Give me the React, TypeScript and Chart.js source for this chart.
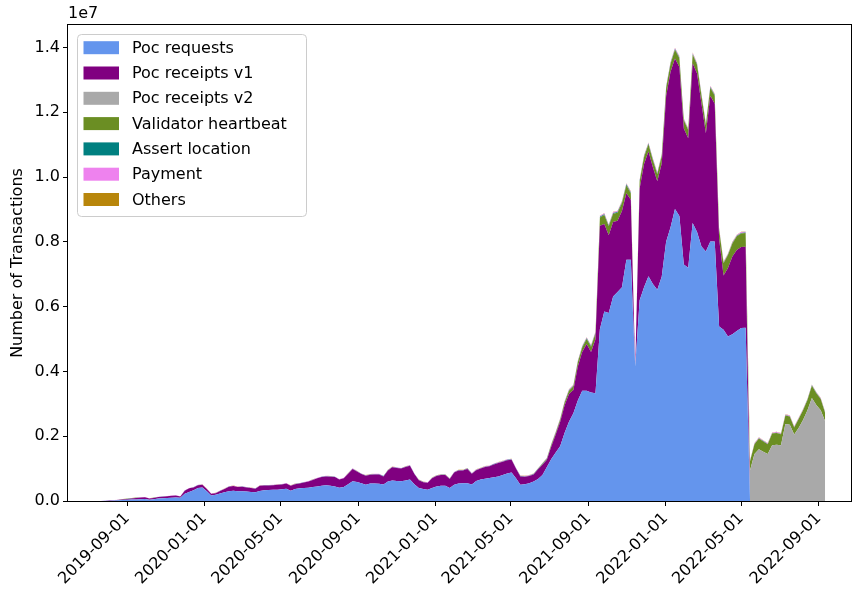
import React, { useEffect, useRef } from 'react';
import { Chart, registerables } from 'chart.js';

Chart.register(...registerables);

// Weekly data (millions of transactions), one value per week starting FIRST_WEEK
const FIRST_WEEK = '2019-07-21';
const WEEK_MS = 7 * 24 * 3600 * 1000;

const pocRequests = [
  0, 0.005, 0.01, 0.015, 0.02, 0.03, 0.04, 0.045, 0.05, 0.055,
  0.06, 0.04, 0.055, 0.075, 0.085, 0.09, 0.10, 0.11, 0.10, 0.22,
  0.28, 0.33, 0.40, 0.42, 0.30, 0.17, 0.19, 0.23, 0.27, 0.30,
  0.32, 0.30, 0.30, 0.29, 0.28, 0.27, 0.31, 0.33, 0.34, 0.35,
  0.35, 0.36, 0.38, 0.32, 0.37, 0.39, 0.40, 0.41, 0.43, 0.45,
  0.47, 0.49, 0.47, 0.45, 0.41, 0.43, 0.52, 0.61, 0.59, 0.55,
  0.50, 0.54, 0.54, 0.53, 0.51, 0.60, 0.63, 0.62, 0.61, 0.63,
  0.66, 0.52, 0.40, 0.37, 0.35, 0.40, 0.45, 0.47, 0.47, 0.40,
  0.50, 0.54, 0.55, 0.55, 0.51, 0.62, 0.66, 0.69, 0.71, 0.73,
  0.76, 0.80, 0.85, 0.88, 0.70, 0.50, 0.52, 0.55, 0.60, 0.68,
  0.80, 1.05, 1.30, 1.50, 1.69, 2.10, 2.45, 2.71, 3.10, 3.40,
  3.40, 3.35, 3.33, 5.30, 5.85, 5.80, 6.31, 6.45, 6.60, 7.45,
  7.45, 4.15, 6.20, 6.60, 6.94, 6.70, 6.52, 6.92, 8.00, 8.45,
  9.01, 8.80, 7.30, 7.20, 8.58, 8.30, 7.86, 7.70, 8.01, 8.01,
  5.39, 5.29, 5.08, 5.15, 5.25, 5.34, 5.35, 0, 0, 0,
  0, 0, 0, 0, 0, 0, 0, 0, 0, 0,
  0, 0, 0, 0, 0,
];

const pocReceiptsV1 = [
  0, 0.005, 0.01, 0.01, 0.015, 0.02, 0.025, 0.035, 0.045, 0.05,
  0.055, 0.035, 0.04, 0.05, 0.05, 0.055, 0.06, 0.06, 0.04, 0.10,
  0.11, 0.09, 0.09, 0.08, 0.07, 0.05, 0.05, 0.08, 0.10, 0.14,
  0.14, 0.13, 0.14, 0.13, 0.12, 0.11, 0.16, 0.15, 0.14, 0.14,
  0.15, 0.15, 0.16, 0.15, 0.15, 0.15, 0.17, 0.19, 0.22, 0.25,
  0.27, 0.27, 0.28, 0.29, 0.25, 0.27, 0.32, 0.38, 0.32, 0.28,
  0.28, 0.27, 0.28, 0.29, 0.25, 0.34, 0.41, 0.40, 0.39, 0.42,
  0.43, 0.31, 0.24, 0.21, 0.21, 0.30, 0.32, 0.33, 0.33, 0.28,
  0.38, 0.40, 0.39, 0.44, 0.33, 0.33, 0.34, 0.36, 0.36, 0.40,
  0.41, 0.41, 0.41, 0.39, 0.30, 0.26, 0.23, 0.22, 0.22, 0.30,
  0.32, 0.22, 0.38, 0.55, 0.75, 0.85, 0.85, 0.72, 1.05, 1.20,
  1.45, 1.25, 1.66, 3.20, 2.70, 2.40, 2.30, 2.20, 2.35, 2.05,
  1.85, 0.00, 3.45, 3.80, 3.85, 3.60, 3.35, 3.50, 4.50, 4.80,
  4.65, 4.60, 4.20, 4.00, 4.93, 4.90, 4.40, 3.65, 4.50, 4.25,
  2.70, 1.67, 2.11, 2.40, 2.50, 2.50, 2.50, 0, 0, 0,
  0, 0, 0, 0, 0, 0, 0, 0, 0, 0,
  0, 0, 0, 0, 0,
];

const pocReceiptsV2 = [
  0, 0, 0, 0, 0, 0, 0, 0, 0, 0,
  0, 0, 0, 0, 0, 0, 0, 0, 0, 0,
  0, 0, 0, 0, 0, 0, 0, 0, 0, 0,
  0, 0, 0, 0, 0, 0, 0, 0, 0, 0,
  0, 0, 0, 0, 0, 0, 0, 0, 0, 0,
  0, 0, 0, 0, 0, 0, 0, 0, 0, 0,
  0, 0, 0, 0, 0, 0, 0, 0, 0, 0,
  0, 0, 0, 0, 0, 0, 0, 0, 0, 0,
  0, 0, 0, 0, 0, 0, 0, 0, 0, 0,
  0, 0, 0, 0, 0, 0, 0, 0, 0, 0,
  0, 0, 0, 0, 0, 0, 0, 0, 0, 0,
  0, 0, 0, 0, 0, 0, 0, 0, 0, 0,
  0, 0, 0, 0, 0, 0, 0, 0, 0, 0,
  0, 0, 0, 0, 0, 0, 0, 0, 0, 0,
  0, 0, 0, 0, 0, 0, 0, 0.95, 1.45, 1.60,
  1.52, 1.45, 1.72, 1.74, 1.72, 2.38, 2.35, 2.05, 2.25, 2.50,
  2.80, 3.18, 2.96, 2.80, 2.46,
];

const validatorHeartbeat = [
  0, 0, 0, 0, 0, 0, 0, 0, 0, 0,
  0, 0, 0, 0, 0, 0, 0, 0, 0, 0,
  0, 0, 0, 0, 0, 0, 0, 0, 0, 0,
  0, 0, 0, 0, 0, 0, 0, 0, 0, 0,
  0, 0, 0, 0, 0, 0, 0, 0, 0, 0,
  0, 0, 0, 0, 0, 0, 0, 0, 0, 0,
  0, 0, 0, 0, 0, 0, 0, 0, 0, 0,
  0, 0, 0, 0, 0, 0, 0, 0, 0, 0,
  0, 0, 0, 0, 0, 0, 0, 0, 0, 0,
  0, 0, 0, 0, 0, 0, 0, 0, 0, 0,
  0.02, 0.03, 0.05, 0.05, 0.06, 0.08, 0.10, 0.11, 0.13, 0.14,
  0.15, 0.16, 0.18, 0.25, 0.28, 0.28, 0.26, 0.25, 0.25, 0.25,
  0.20, 0.00, 0.22, 0.22, 0.22, 0.22, 0.22, 0.22, 0.25, 0.25,
  0.27, 0.27, 0.25, 0.25, 0.27, 0.27, 0.25, 0.25, 0.25, 0.25,
  0.28, 0.38, 0.40, 0.40, 0.42, 0.42, 0.42, 0.28, 0.30, 0.33,
  0.32, 0.30, 0.36, 0.36, 0.34, 0.26, 0.26, 0.22, 0.28, 0.30,
  0.32, 0.38, 0.37, 0.35, 0.26,
];

const assertLocation = [
  0, 0.001, 0.001, 0.002, 0.002, 0.002, 0.002, 0.002, 0.002, 0.002,
  0.002, 0.002, 0.002, 0.002, 0.002, 0.002, 0.002, 0.002, 0.002, 0.003,
  0.003, 0.003, 0.004, 0.004, 0.004, 0.003, 0.003, 0.004, 0.004, 0.004,
  0.004, 0.004, 0.004, 0.004, 0.004, 0.004, 0.004, 0.004, 0.004, 0.004,
  0.004, 0.004, 0.004, 0.004, 0.005, 0.005, 0.005, 0.005, 0.006, 0.006,
  0.006, 0.006, 0.006, 0.006, 0.006, 0.006, 0.007, 0.008, 0.008, 0.008,
  0.008, 0.008, 0.008, 0.008, 0.008, 0.008, 0.008, 0.008, 0.008, 0.008,
  0.008, 0.008, 0.007, 0.007, 0.007, 0.008, 0.008, 0.008, 0.008, 0.008,
  0.009, 0.009, 0.009, 0.010, 0.010, 0.010, 0.010, 0.011, 0.011, 0.011,
  0.012, 0.012, 0.012, 0.012, 0.011, 0.010, 0.010, 0.011, 0.012, 0.013,
  0.014, 0.015, 0.016, 0.017, 0.018, 0.019, 0.020, 0.020, 0.021, 0.022,
  0.022, 0.022, 0.022, 0.024, 0.024, 0.024, 0.024, 0.024, 0.024, 0.024,
  0.022, 0, 0.022, 0.022, 0.022, 0.022, 0.022, 0.022, 0.022, 0.022,
  0.022, 0.022, 0.020, 0.020, 0.020, 0.020, 0.020, 0.020, 0.020, 0.020,
  0.018, 0.016, 0.016, 0.016, 0.016, 0.016, 0.016, 0.010, 0.010, 0.010,
  0.010, 0.010, 0.010, 0.010, 0.010, 0.010, 0.010, 0.010, 0.010, 0.010,
  0.010, 0.010, 0.010, 0.010, 0.010,
];

const payment = [
  0, 0.002, 0.003, 0.004, 0.004, 0.005, 0.005, 0.005, 0.006, 0.006,
  0.006, 0.005, 0.006, 0.006, 0.006, 0.006, 0.007, 0.007, 0.006, 0.008,
  0.008, 0.008, 0.008, 0.008, 0.007, 0.006, 0.006, 0.007, 0.007, 0.008,
  0.008, 0.008, 0.008, 0.008, 0.008, 0.008, 0.008, 0.008, 0.008, 0.008,
  0.008, 0.008, 0.008, 0.008, 0.008, 0.008, 0.009, 0.009, 0.010, 0.010,
  0.010, 0.010, 0.010, 0.010, 0.010, 0.010, 0.010, 0.010, 0.010, 0.010,
  0.010, 0.010, 0.010, 0.010, 0.010, 0.010, 0.010, 0.010, 0.010, 0.010,
  0.010, 0.010, 0.010, 0.010, 0.010, 0.010, 0.010, 0.010, 0.010, 0.010,
  0.011, 0.011, 0.011, 0.012, 0.012, 0.012, 0.012, 0.013, 0.013, 0.013,
  0.014, 0.014, 0.014, 0.014, 0.013, 0.012, 0.012, 0.012, 0.013, 0.014,
  0.015, 0.016, 0.017, 0.018, 0.019, 0.020, 0.020, 0.021, 0.022, 0.022,
  0.023, 0.023, 0.023, 0.025, 0.025, 0.025, 0.025, 0.025, 0.025, 0.026,
  0.026, 0, 0.026, 0.027, 0.027, 0.027, 0.027, 0.028, 0.028, 0.029,
  0.030, 0.030, 0.029, 0.029, 0.030, 0.030, 0.029, 0.028, 0.028, 0.028,
  0.026, 0.025, 0.025, 0.025, 0.025, 0.025, 0.025, 0.020, 0.020, 0.020,
  0.020, 0.020, 0.020, 0.020, 0.020, 0.020, 0.020, 0.020, 0.020, 0.020,
  0.020, 0.020, 0.020, 0.020, 0.020,
];

const others = [
  0, 0.001, 0.001, 0.001, 0.001, 0.001, 0.002, 0.002, 0.002, 0.002,
  0.002, 0.002, 0.002, 0.002, 0.002, 0.002, 0.002, 0.002, 0.002, 0.002,
  0.003, 0.003, 0.003, 0.003, 0.003, 0.003, 0.003, 0.003, 0.003, 0.003,
  0.003, 0.003, 0.003, 0.003, 0.003, 0.003, 0.003, 0.003, 0.003, 0.003,
  0.003, 0.003, 0.003, 0.003, 0.004, 0.004, 0.004, 0.004, 0.004, 0.004,
  0.004, 0.004, 0.004, 0.004, 0.004, 0.004, 0.004, 0.004, 0.004, 0.004,
  0.004, 0.004, 0.004, 0.004, 0.004, 0.004, 0.004, 0.004, 0.004, 0.004,
  0.004, 0.004, 0.004, 0.004, 0.004, 0.004, 0.004, 0.004, 0.004, 0.004,
  0.005, 0.005, 0.005, 0.005, 0.005, 0.005, 0.005, 0.005, 0.005, 0.005,
  0.005, 0.005, 0.005, 0.005, 0.005, 0.005, 0.005, 0.006, 0.006, 0.006,
  0.006, 0.007, 0.007, 0.008, 0.008, 0.009, 0.009, 0.010, 0.010, 0.010,
  0.010, 0.010, 0.010, 0.010, 0.010, 0.010, 0.010, 0.010, 0.010, 0.010,
  0.010, 0, 0.010, 0.011, 0.011, 0.011, 0.011, 0.011, 0.012, 0.012,
  0.012, 0.012, 0.012, 0.012, 0.012, 0.012, 0.012, 0.012, 0.012, 0.012,
  0.011, 0.010, 0.010, 0.010, 0.010, 0.010, 0.010, 0.008, 0.008, 0.008,
  0.008, 0.008, 0.008, 0.008, 0.008, 0.008, 0.008, 0.008, 0.008, 0.008,
  0.008, 0.008, 0.008, 0.008, 0.008,
];

const seriesLabels = [
  'Poc requests',
  'Poc receipts v1',
  'Poc receipts v2',
  'Validator heartbeat',
  'Assert location',
  'Payment',
  'Others',
];
const seriesColors = ['#6495ED', '#800080', '#A9A9A9', '#6B8E23', '#008080', '#EE82EE', '#B8860B'];
const seriesValues = [pocRequests, pocReceiptsV1, pocReceiptsV2, validatorHeartbeat, assertLocation, payment, others];

const xTickDates = [
  '2019-09-01', '2020-01-01', '2020-05-01', '2020-09-01', '2021-01-01',
  '2021-05-01', '2021-09-01', '2022-01-01', '2022-05-01', '2022-09-01',
];
const xRange = ['2019-05-30', '2022-10-22'];
const yTickLabels = ['0.0', '0.2', '0.4', '0.6', '0.8', '1.0', '1.2', '1.4'];
const yOffsetText = '1e7';
const yTitle = 'Number of Transactions';

const FONT = 'DejaVu Sans';

const decorPlugin = {
  id: 'decor',
  afterDraw(chart: any) {
    const { ctx, chartArea: a } = chart;
    ctx.save();
    // frame (all four spines)
    ctx.strokeStyle = '#000';
    ctx.lineWidth = 1;
    ctx.strokeRect(Math.round(a.left) - 0.5, Math.round(a.top) - 0.5, Math.round(a.right - a.left) + 1, Math.round(a.bottom - a.top) + 1);

    ctx.fillStyle = '#000';
    ctx.font = `16px "${FONT}"`;
    // offset text
    ctx.textAlign = 'left';
    ctx.textBaseline = 'middle';
    ctx.fillText(yOffsetText, a.left, 14);
    // y title
    ctx.save();
    ctx.translate(18, (a.top + a.bottom) / 2);
    ctx.rotate(-Math.PI / 2);
    ctx.textAlign = 'center';
    ctx.textBaseline = 'middle';
    ctx.fillText(yTitle, 0, 0);
    ctx.restore();

    // legend
    const lx = a.left + 9.5;
    const ly = a.top + 9.5;
    const lw = 229;
    const lh = 182;
    const r = 4;
    ctx.beginPath();
    ctx.moveTo(lx + r, ly);
    ctx.lineTo(lx + lw - r, ly);
    ctx.arcTo(lx + lw, ly, lx + lw, ly + r, r);
    ctx.lineTo(lx + lw, ly + lh - r);
    ctx.arcTo(lx + lw, ly + lh, lx + lw - r, ly + lh, r);
    ctx.lineTo(lx + r, ly + lh);
    ctx.arcTo(lx, ly + lh, lx, ly + lh - r, r);
    ctx.lineTo(lx, ly + r);
    ctx.arcTo(lx, ly, lx + r, ly, r);
    ctx.closePath();
    ctx.fillStyle = 'rgba(255,255,255,0.8)';
    ctx.fill();
    ctx.strokeStyle = '#cccccc';
    ctx.stroke();

    chart.data.datasets.forEach((ds: any, i: number) => {
      const cy = a.top + 22.7 + i * 25.3;
      ctx.fillStyle = ds.backgroundColor;
      ctx.fillRect(a.left + 15.5, cy - 6.5, 35.5, 13);
      ctx.fillStyle = '#000';
      ctx.textAlign = 'left';
      ctx.textBaseline = 'middle';
      ctx.fillText(ds.label, a.left + 64, cy + 1);
    });
    ctx.restore();
  },
};

export default function App() {
  const ref = useRef<HTMLCanvasElement>(null);

  useEffect(() => {
    document.body.style.margin = '0';
    const canvas = ref.current;
    if (!canvas) return;

    const start = Date.parse(FIRST_WEEK);
    const weekTimes = pocRequests.map((_, i) => start + i * WEEK_MS);
    const totals = weekTimes.map((_, j) => seriesValues.reduce((acc, s) => acc + s[j], 0));
    const yMax = Math.max(...totals) * 1.05 * 1e6;

    const datasets = seriesLabels.map((label, i) => ({
      label,
      data: seriesValues[i].map((v, j) => ({ x: weekTimes[j], y: v * 1e6 })),
      backgroundColor: seriesColors[i],
      borderColor: seriesColors[i],
      borderWidth: 0,
      pointRadius: 0,
      pointHoverRadius: 0,
      tension: 0,
      fill: i === 0 ? 'origin' : '-1',
    }));

    Chart.defaults.font.family = FONT;
    Chart.defaults.font.size = 16;
    Chart.defaults.color = '#000';

    const chart = new Chart(canvas, {
      type: 'line',
      data: { datasets } as any,
      options: {
        responsive: false,
        animation: false,
        devicePixelRatio: 1,
        events: [],
        layout: { padding: { top: 25, right: 2, left: 0, bottom: 0 } },
        plugins: {
          legend: { display: false },
          tooltip: { enabled: false },
        },
        scales: {
          x: {
            type: 'linear',
            min: Date.parse(xRange[0]),
            max: Date.parse(xRange[1]),
            afterBuildTicks: (s: any) => {
              s.ticks = xTickDates.map((d) => ({ value: Date.parse(d) }));
            },
            afterFit: (s: any) => {
              s.height = 93;
            },
            ticks: {
              autoSkip: false,
              maxRotation: 45,
              minRotation: 45,
              padding: 3,
              labelOffset: 0,
              color: '#000',
              font: { family: FONT, size: 16 },
              callback: (_v: any, i: number) => xTickDates[i],
            },
            grid: { drawOnChartArea: false, drawTicks: true, tickLength: 5, tickColor: '#000', tickWidth: 1 },
            border: { display: false },
          },
          y: {
            type: 'linear',
            stacked: true,
            min: 0,
            max: yMax,
            afterBuildTicks: (s: any) => {
              s.ticks = yTickLabels.map((t) => ({ value: parseFloat(t) * 1e7 }));
            },
            afterFit: (s: any) => {
              s.width = 68;
            },
            ticks: {
              padding: 3,
              color: '#000',
              font: { family: FONT, size: 16 },
              callback: (_v: any, i: number) => yTickLabels[i],
            },
            grid: { drawOnChartArea: false, drawTicks: true, tickLength: 5, tickColor: '#000', tickWidth: 1 },
            border: { display: false },
          },
        },
      } as any,
      plugins: [decorPlugin],
    });

    return () => chart.destroy();
  }, []);

  return (
    <div style={{ width: 853, height: 594 }}>
      <canvas ref={ref} width={853} height={594} style={{ display: 'block' }} />
    </div>
  );
}
